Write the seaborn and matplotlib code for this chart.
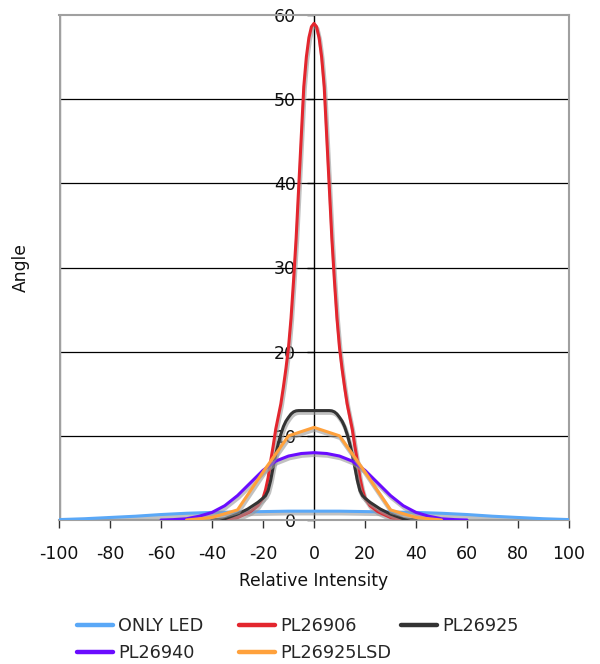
import numpy as np
import pandas as pd
import matplotlib
matplotlib.use('Agg')
import matplotlib.pyplot as plt
import matplotlib.patheffects as pe
from matplotlib.lines import Line2D
import seaborn as sns

# ---- data ----
led_x = [-100, -90, -80, -70, -60, -50, -40, -30, -20, -10, 0, 10, 20, 30, 40, 50, 60, 70, 80, 90, 100]
led_y = [0.05, 0.15, 0.3, 0.45, 0.65, 0.8, 0.9, 0.95, 1.0, 1.05, 1.05, 1.05, 1.0, 0.95, 0.9, 0.8, 0.65, 0.45, 0.3, 0.15, 0.05]

pl906_x = [-40, -35, -30, -25, -22, -20, -19, -18, -17, -16, -15, -14, -13, -12, -11, -10,
           -9, -8, -7, -6, -5, -4, -3, -2, -1, 0,
           1, 2, 3, 4, 5, 6, 7, 8, 9, 10, 11, 12, 13, 14, 15, 16, 17, 18, 19, 20,
           22, 25, 30, 35, 40]
pl906_y = [0, 0.05, 0.3, 1.0, 1.7, 2.6, 3.6, 5.0, 7.0, 8.8, 10.8, 12.3, 13.8, 15.8, 18.0, 20.5,
           24, 28.5, 33.5, 39.5, 45.5, 51.5, 55, 57.3, 58.6, 59,
           58.6, 57.3, 55, 51.5, 45.5, 39.5, 33.5, 28.5, 24, 20.5, 18.0, 15.8, 13.8, 12.3, 10.8,
           8.8, 7.0, 5.0, 3.6, 2.6,
           1.7, 1.0, 0.3, 0.05, 0]

pl925_x = [-40, -35, -30, -26, -24, -22, -20, -19, -18, -17, -16, -15, -14, -13, -12, -11,
           -10, -9, -8, -7, -6, 0,
           6, 7, 8, 9, 10, 11, 12, 13, 14, 15, 16, 17, 18, 19, 20, 22, 24, 26, 30, 35, 40]
pl925_y = [0, 0.15, 0.7, 1.3, 1.7, 2.1, 2.6, 2.9, 3.5, 4.7, 6.3, 7.8, 9.1, 10.2, 11.1, 11.75,
           12.2, 12.6, 12.85, 12.97, 13.0, 13.0,
           13.0, 12.97, 12.85, 12.6, 12.2, 11.75, 11.1, 10.2, 9.1, 7.8, 6.3, 4.7, 3.5, 2.9, 2.6,
           2.1, 1.7, 1.3, 0.7, 0.15, 0]

pl940_x = [-60, -55, -50, -45, -40, -35, -30, -25, -20, -15, -10, -5, 0,
           5, 10, 15, 20, 25, 30, 35, 40, 45, 50, 55, 60]
pl940_y = [0, 0.05, 0.15, 0.45, 0.9, 1.7, 2.9, 4.4, 5.9, 7.0, 7.6, 7.9, 8.0,
           7.9, 7.6, 7.0, 5.9, 4.4, 2.9, 1.7, 0.9, 0.45, 0.15, 0.05, 0]

lsd_x = [-50, -40, -30, -20, -10, 0, 10, 20, 30, 40, 50]
lsd_y = [0, 0.3, 1.2, 5.7, 10, 11, 10, 5.7, 1.2, 0.3, 0]

series = ['ONLY LED', 'PL26906', 'PL26925', 'PL26940', 'PL26925LSD']
colors = ['#5aa8f7', '#e3262e', '#333333', '#6a0cff', '#ffa13c']

frames = []
for name, xs, ys in [('ONLY LED', led_x, led_y), ('PL26906', pl906_x, pl906_y),
                     ('PL26925', pl925_x, pl925_y), ('PL26940', pl940_x, pl940_y),
                     ('PL26925LSD', lsd_x, lsd_y)]:
    frames.append(pd.DataFrame({'x': xs, 'y': ys, 'series': name}))
df = pd.concat(frames, ignore_index=True)

sns.set_style('white')
plt.rcParams['font.family'] = ['DejaVu Sans']
plt.rcParams['axes.unicode_minus'] = False

fig = plt.figure(figsize=(6, 6.64), dpi=100)
ax = fig.add_axes([59 / 600, 1 - 520 / 664, 510 / 600, 505 / 664])

shadow = [pe.SimpleLineShadow(offset=(0.7, -1.6), shadow_color='0.6', alpha=0.6, linewidth=3.0),
          pe.Normal()]
sns.lineplot(data=df, x='x', y='y', hue='series', hue_order=series,
             palette=dict(zip(series, colors)), estimator=None, sort=False,
             linewidth=2.2, path_effects=shadow, ax=ax, zorder=3, legend=False)

ax.set_xlim(-100, 100)
ax.set_ylim(0, 60)
ax.set_xticks(np.arange(-100, 101, 20))
ax.set_yticks(np.arange(0, 61, 10))

# horizontal grid lines
for v in range(10, 60, 10):
    ax.axhline(v, color='black', lw=0.9, zorder=1)

ax.spines['left'].set_position(('data', 0))
ax.spines['left'].set_color('black')
ax.spines['left'].set_linewidth(1.0)
for s in ['top', 'right', 'bottom']:
    ax.spines[s].set_color('#a0a0a0')
    ax.spines[s].set_linewidth(1.5)
ax.axvline(-100, color='#a0a0a0', lw=2.5, zorder=1)

ax.tick_params(axis='x', direction='out', length=6, width=1, color='#333333',
               pad=12, labelsize=12.5, bottom=True, labelcolor='#111111')
ax.tick_params(axis='y', direction='out', length=5, width=1, color='black',
               pad=8, labelsize=12.5, left=True, labelcolor='#111111')

ax.set_xlabel('Relative Intensity', fontsize=12.3, color='#111111')
ax.set_ylabel('Angle', fontsize=12.3, color='#111111')
ax.xaxis.set_label_coords(0.5, -0.103)
ax.yaxis.set_label_coords(-0.058, 0.5)

# legend: three fixed columns like the original
col = dict(zip(series, colors))
columns = [(77, ['ONLY LED', 'PL26940']), (239, ['PL26906', 'PL26925LSD']), (401, ['PL26925'])]
for x0, names in columns:
    hs = [Line2D([], [], color=col[n], lw=3.2) for n in names]
    fig.legend(hs, names, loc='upper left', bbox_to_anchor=(x0 / 600, 1 - 617 / 664),
               frameon=False, fontsize=12.7, handlelength=2.05, handletextpad=0.3,
               borderpad=0, borderaxespad=0, labelspacing=0.5)

fig.savefig('out.png', dpi=100)
